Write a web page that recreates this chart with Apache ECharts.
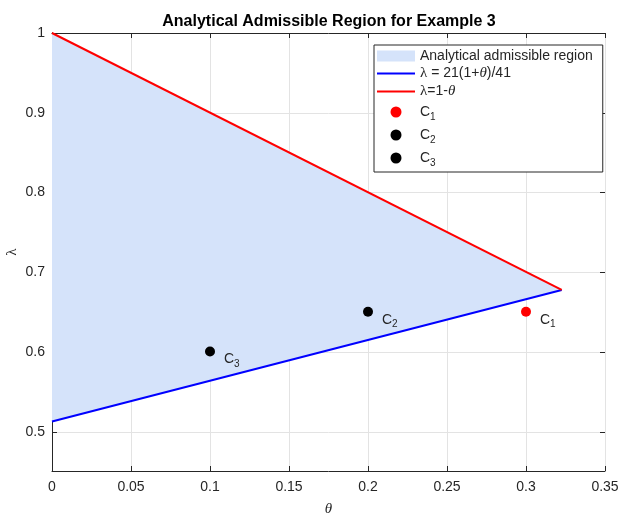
<!DOCTYPE html>
<html>
<head>
<meta charset="utf-8">
<script src="https://cdn.jsdelivr.net/npm/echarts@6/dist/echarts.min.js"></script>
<style>
  html, body { margin: 0; padding: 0; background: #fff; }
  #main { width: 635px; height: 528px; }
</style>
</head>
<body>
<div id="main"></div>
<script>
// values
var regionTheta = [0, 0.3226, 0];
var regionLambda = [1, 0.6774, 0.5122];
var blueTheta = [0, 0.3226];
var blueLambda = [0.5122, 0.6774];
var redTheta = [0, 0.3226];
var redLambda = [1, 0.6774];
var pointNames = ['C1', 'C2', 'C3'];
var pointTheta = [0.3, 0.2, 0.1];
var pointLambda = [0.65, 0.65, 0.6];
var pointColors = ['#ff0000', '#000000', '#000000'];

var font = '"Liberation Sans", Arial, Helvetica, sans-serif';
var serif = '"Liberation Serif", "DejaVu Serif", serif';
var ink = '#262626';
var gridColor = '#e3e3e3';
var fillColor = '#d5e3fa';

function pairs(xs, ys) {
    return xs.map(function (x, i) { return [x, ys[i]]; });
}

var richText = {
    sub: { fontSize: 10, lineHeight: 11, padding: [10, 0, 0, 0], color: ink, fontFamily: font },
    g: { fontFamily: serif, fontSize: 15, color: ink },
    gi: { fontFamily: serif, fontStyle: 'italic', fontSize: 15, color: ink }
};

var legendText = {
    'region': 'Analytical admissible region',
    'blue': '{g|λ} = 21(1+{gi|θ})/41',
    'red': '{g|λ}=1-{gi|θ}',
    'C1': 'C{sub|1}',
    'C2': 'C{sub|2}',
    'C3': 'C{sub|3}'
};

var chart = echarts.init(document.getElementById('main'));

var series = [
    {
        name: 'region',
        type: 'custom',
        xAxisIndex: 0,
        yAxisIndex: 0,
        silent: true,
        z: 1,
        itemStyle: { color: fillColor },
        data: pairs(regionTheta, regionLambda),
        renderItem: function (params, api) {
            if (params.dataIndex !== 0) return;
            var pts = regionTheta.map(function (t, i) {
                return api.coord([t, regionLambda[i]]);
            });
            return { type: 'polygon', shape: { points: pts }, style: { fill: fillColor } };
        }
    },
    {
        name: 'blue',
        type: 'line',
        xAxisIndex: 0,
        yAxisIndex: 0,
        symbol: 'none',
        z: 3,
        lineStyle: { color: '#0000ff', width: 2 },
        itemStyle: { color: '#0000ff' },
        data: pairs(blueTheta, blueLambda)
    },
    {
        name: 'red',
        type: 'line',
        xAxisIndex: 0,
        yAxisIndex: 0,
        symbol: 'none',
        z: 3,
        lineStyle: { color: '#ff0000', width: 2 },
        itemStyle: { color: '#ff0000' },
        data: pairs(redTheta, redLambda)
    }
];

pointNames.forEach(function (n, i) {
    series.push({
        name: n,
        type: 'scatter',
        xAxisIndex: 0,
        yAxisIndex: 0,
        symbolSize: 10,
        z: 4,
        itemStyle: { color: pointColors[i], opacity: 1 },
        label: {
            show: true,
            position: 'right',
            distance: 5,
            offset: [4, 8],
            formatter: legendText[n],
            fontSize: 14,
            color: ink,
            fontFamily: font,
            rich: richText
        },
        data: [[pointTheta[i], pointLambda[i]]]
    });
});

var lineIcon = 'path://M0,0H38V2H0Z';

var option = {
    animation: false,
    backgroundColor: '#fff',
    title: {
        text: 'Analytical Admissible Region for Example 3',
        left: 329,
        top: 14,
        padding: 0,
        textAlign: 'center',
        textStyle: { fontSize: 16, fontWeight: 'bold', color: '#000', fontFamily: font }
    },
    legend: {
        orient: 'vertical',
        left: 374,
        top: 45,
        padding: [4, 10, 4, 3],
        itemGap: 3,
        itemWidth: 38,
        itemHeight: 11,
        selectedMode: false,
        backgroundColor: '#fff',
        borderColor: ink,
        borderWidth: 1,
        textStyle: { fontSize: 14, color: ink, fontFamily: font, rich: richText },
        formatter: function (name) { return legendText[name]; },
        data: [
            { name: 'region', icon: 'rect', itemStyle: { color: fillColor } },
            { name: 'blue', icon: lineIcon, itemStyle: { color: '#0000ff' } },
            { name: 'red', icon: lineIcon, itemStyle: { color: '#ff0000' } },
            { name: 'C1', icon: 'circle' },
            { name: 'C2', icon: 'circle' },
            { name: 'C3', icon: 'circle' }
        ]
    },
    grid: [
        { left: 52, right: 30, top: 33, bottom: 57, containLabel: false, outerBoundsMode: 'none' },
        { left: 52, right: 30, top: 33, bottom: 96, containLabel: false, outerBoundsMode: 'none' }
    ],
    xAxis: [
        {
            gridIndex: 0,
            type: 'value',
            position: 'bottom',
            min: 0,
            max: 0.35,
            interval: 0.05,
            name: 'θ',
            nameLocation: 'middle',
            nameGap: 31,
            nameTextStyle: { fontFamily: serif, fontStyle: 'italic', fontSize: 15, color: ink },
            axisLine: { show: true, lineStyle: { color: ink, width: 1 } },
            axisTick: { show: true, inside: true, length: 5, lineStyle: { color: ink } },
            axisLabel: { margin: 9, fontSize: 14, color: ink, fontFamily: font },
            splitLine: { show: true, lineStyle: { color: gridColor, width: 1 } }
        },
        {
            gridIndex: 0,
            type: 'value',
            position: 'top',
            min: 0,
            max: 0.35,
            interval: 0.05,
            axisLine: { show: true, lineStyle: { color: ink, width: 1 } },
            axisTick: { show: true, inside: true, length: 5, lineStyle: { color: ink } },
            axisLabel: { show: false },
            splitLine: { show: false }
        },
        {
            gridIndex: 1,
            type: 'value',
            min: 0,
            max: 0.35,
            show: false
        }
    ],
    yAxis: [
        {
            gridIndex: 0,
            type: 'value',
            position: 'left',
            min: 0.45,
            max: 1,
            name: 'λ',
            nameLocation: 'middle',
            nameGap: 32,
            nameTextStyle: { fontFamily: serif, fontSize: 15, color: ink },
            axisLine: { show: true, lineStyle: { color: ink, width: 1 } },
            axisTick: { show: false },
            axisLabel: { show: false },
            splitLine: { show: false }
        },
        {
            gridIndex: 0,
            type: 'value',
            position: 'right',
            min: 0.45,
            max: 1,
            axisLine: { show: true, lineStyle: { color: ink, width: 1 } },
            axisTick: { show: false },
            axisLabel: { show: false },
            splitLine: { show: false }
        },
        {
            gridIndex: 1,
            type: 'value',
            position: 'left',
            min: 0.5,
            max: 1,
            interval: 0.1,
            axisLine: { show: false },
            axisTick: { show: true, inside: true, length: 5, lineStyle: { color: ink } },
            axisLabel: { margin: 7, fontSize: 14, color: ink, fontFamily: font },
            splitLine: { show: true, lineStyle: { color: gridColor, width: 1 } }
        },
        {
            gridIndex: 1,
            type: 'value',
            position: 'right',
            min: 0.5,
            max: 1,
            interval: 0.1,
            axisLine: { show: false },
            axisTick: { show: true, inside: true, length: 5, lineStyle: { color: ink } },
            axisLabel: { show: false },
            splitLine: { show: false }
        }
    ],
    series: series
};

chart.setOption(option);
</script>
</body>
</html>
